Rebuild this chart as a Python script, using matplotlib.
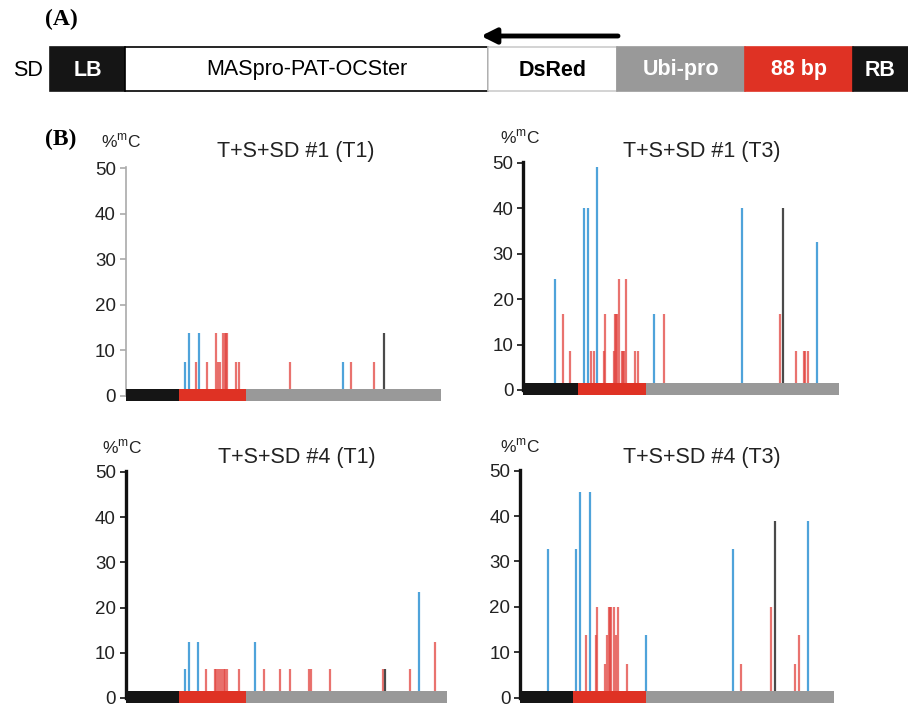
import matplotlib
matplotlib.use('Agg')
import matplotlib.pyplot as plt
from matplotlib.patches import Rectangle

plt.rcParams['font.family'] = ['Liberation Sans', 'DejaVu Sans']
plt.rcParams['mathtext.fontset'] = 'custom'
plt.rcParams['mathtext.rm'] = 'Liberation Sans'

# construct map (A)
construct_names = ['LB', 'MASpro-PAT-OCSter', 'DsRed', 'Ubi-pro', '88 bp', 'RB']
construct_len = [75, 363, 129, 128, 108, 55]

# methylation profiles (B): position along region (% of length), %mC, context
titles = ['T+S+SD #1 (T1)', 'T+S+SD #1 (T3)', 'T+S+SD #4 (T1)', 'T+S+SD #4 (T3)']

p1_pos = [18.9, 20.2, 22.2, 23.2, 25.7, 28.6, 29.3, 29.9, 31.0, 31.4, 31.9, 32.3,
          35.0, 36.1, 52.1, 69.0, 71.4, 78.8, 82.0]
p1_val = [7.4, 13.8, 7.4, 13.8, 7.4, 13.8, 7.4, 7.4, 13.8, 13.8, 13.8, 13.8,
          7.4, 7.4, 7.4, 7.4, 7.4, 7.4, 13.8]
p1_ctx = ['CG', 'CG', 'CHH', 'CG', 'CHH', 'CHH', 'CHH', 'CHH', 'CHH', 'CHH', 'CHH', 'CHH',
          'CHH', 'CHH', 'CHH', 'CG', 'CHH', 'CHH', 'CHG']

p2_pos = [10.1, 12.7, 14.7, 19.1, 20.6, 21.3, 22.3, 23.3, 25.6, 25.9, 28.6, 28.9, 29.2,
          29.5, 30.2, 31.1, 31.5, 31.9, 32.5, 35.2, 36.2, 41.4, 44.5, 69.1, 81.2, 82.3,
          86.3, 88.8, 89.3, 90.0, 92.8]
p2_val = [24.5, 16.7, 8.5, 40, 40, 8.5, 8.5, 49, 8.5, 16.7, 8.5, 16.7, 16.7,
          16.7, 24.5, 8.5, 8.5, 8.5, 24.5, 8.5, 8.5, 16.7, 16.7, 40, 16.7, 40,
          8.5, 8.5, 8.5, 8.5, 32.5]
p2_ctx = ['CG', 'CHH', 'CHH', 'CG', 'CG', 'CHH', 'CHH', 'CG', 'CHH', 'CHH', 'CHH', 'CHH', 'CHH',
          'CHH', 'CHH', 'CHH', 'CHH', 'CHH', 'CHH', 'CHH', 'CHH', 'CG', 'CHH', 'CG', 'CHH', 'CHG',
          'CHH', 'CHH', 'CHH', 'CHH', 'CG']

p3_pos = [18.5, 19.7, 22.6, 25.0, 27.7, 28.2, 28.8, 29.3, 30.0, 30.5, 31.0, 31.6,
          35.3, 40.4, 43.0, 48.1, 51.2, 57.2, 57.7, 63.7, 80.0, 80.7, 88.6, 91.4, 96.5]
p3_val = [6.5, 12.3, 12.3, 6.5, 6.5, 6.5, 6.5, 6.5, 6.5, 6.5, 6.5, 6.5,
          6.5, 12.3, 6.5, 6.5, 6.5, 6.5, 6.5, 6.5, 6.5, 6.5, 6.5, 23.5, 12.3]
p3_ctx = ['CG', 'CG', 'CG', 'CHH', 'CHH', 'CHH', 'CHH', 'CHH', 'CHH', 'CHH', 'CHH', 'CHH',
          'CHH', 'CG', 'CHH', 'CHH', 'CHH', 'CHH', 'CHH', 'CHH', 'CHH', 'CHG', 'CHH', 'CG', 'CHH']

p4_pos = [9.0, 17.9, 19.2, 21.1, 22.2, 24.3, 24.6, 27.2, 27.7, 28.2, 28.7, 29.1,
          29.9, 30.5, 31.1, 34.0, 40.2, 67.9, 70.4, 80.0, 81.1, 87.7, 88.7, 91.7]
p4_val = [32.8, 32.8, 45.3, 13.8, 45.3, 13.8, 20, 7.5, 13.8, 20, 20, 20,
          20, 13.8, 20, 7.5, 13.8, 32.8, 7.5, 20, 38.9, 7.5, 13.8, 38.9]
p4_ctx = ['CG', 'CG', 'CG', 'CHH', 'CG', 'CHH', 'CHH', 'CHH', 'CHH', 'CHH', 'CHH', 'CHH',
          'CHH', 'CHH', 'CHH', 'CHH', 'CG', 'CG', 'CHH', 'CHH', 'CHG', 'CHH', 'CHH', 'CG']

# region boundaries under each profile (RB | 88 bp | Ubi-pro)
p1_bounds = [16.9, 38.1]
p2_bounds = [17.4, 38.7]
p3_bounds = [16.7, 37.5]
p4_bounds = [16.8, 40.0]

ctx_color = {'CG': '#4fa3da', 'CHG': '#4a4a4a', 'CHH': '#e2443f'}
ctx_alpha = {'CG': 1.0, 'CHG': 1.0, 'CHH': 0.75}
seg_colors = ['#151515', '#df3224', '#999999']

W, H = 908, 707
fig = plt.figure(figsize=(W / 100, H / 100), dpi=100)

# background axes in pixel coordinates for panel A and labels
bg = fig.add_axes([0, 0, 1, 1])
bg.set_xlim(0, W)
bg.set_ylim(H, 0)
bg.axis('off')

bg.text(61, 19, '(A)', fontsize=17, fontweight='bold', family='Liberation Serif',
        ha='center', va='center')
bg.text(61, 139, '(B)', fontsize=17, fontweight='bold', family='Liberation Serif',
        ha='center', va='center')
bg.text(28, 70, 'SD', fontsize=15.5, ha='center', va='center')

x = 50
y_top, y_bot = 47, 91
fills = ['#151515', 'white', 'white', '#999999', '#df3224', '#151515']
edges = ['#151515', 'black', '#cccccc', '#999999', '#df3224', '#151515']
tcols = ['white', 'black', 'black', 'white', 'white', 'white']
bold = [True, False, True, True, True, True]
for name, ln, fc, ec, tc, b in zip(construct_names, construct_len, fills, edges, tcols, bold):
    bg.add_patch(Rectangle((x, y_top), ln, y_bot - y_top, facecolor=fc,
                           edgecolor=ec, lw=1.2))
    bg.text(x + ln / 2, (y_top + y_bot) / 2 + 1, name, color=tc, fontsize=15.5,
            fontweight='bold' if b else 'normal', ha='center', va='center')
    x += ln

bg.annotate('', xy=(481, 36), xytext=(618, 36),
            arrowprops=dict(arrowstyle='-|>,head_length=0.9,head_width=0.45',
                            lw=3.5, color='black', shrinkA=0, shrinkB=0))

panels = [
    (p1_pos, p1_val, p1_ctx, p1_bounds, (125.7, 440.7, 396.0, 168.3), (296, 152), (121, 141), '#aaaaaa', 1.2),
    (p2_pos, p2_val, p2_ctx, p2_bounds, (523.3, 839.3, 390.0, 162.7), (702, 152), (520, 137), '#111111', 2.4),
    (p3_pos, p3_val, p3_ctx, p3_bounds, (125.7, 446.7, 698.0, 471.8), (297, 457), (122, 447), '#111111', 2.4),
    (p4_pos, p4_val, p4_ctx, p4_bounds, (520.0, 834.0, 697.8, 470.6), (702, 457), (520, 446), '#111111', 2.4),
]

for (pos, val, ctx, bounds, geo, tpos, mpos, spc, splw), title in zip(panels, titles):
    x0, x1, y0, y50 = geo
    unit = (y0 - y50) / 50
    top = y0 - 50.6 * unit
    bot = y0 + 1.4 * unit
    ax = fig.add_axes([x0 / W, 1 - bot / H, (x1 - x0) / W, (bot - top) / H])
    ax.set_facecolor('none')
    ax.set_xlim(0, 100)
    ax.set_ylim(-1.4, 50.6)

    for p, v, c in zip(pos, val, ctx):
        ax.vlines(p, 0, v, color=ctx_color[c], alpha=ctx_alpha[c], lw=1.6)

    edges_x = [0] + bounds + [100]
    for i in range(3):
        ax.add_patch(Rectangle((edges_x[i], -1.2), edges_x[i + 1] - edges_x[i], 2.8,
                               facecolor=seg_colors[i], edgecolor='none', zorder=3))

    for s in ['top', 'right', 'bottom']:
        ax.spines[s].set_visible(False)
    ax.spines['left'].set_color(spc)
    ax.spines['left'].set_linewidth(splw)
    ax.spines['left'].set_bounds(0, 50.2)
    ax.set_xticks([])
    ax.set_yticks([0, 10, 20, 30, 40, 50])
    ax.tick_params(axis='y', direction='out', length=4, width=1.2, color=spc,
                   labelsize=13.5, pad=3, labelcolor='#222222')

    bg.text(tpos[0], tpos[1], title, fontsize=15.5, ha='center', va='center',
            color='#222222')
    bg.text(mpos[0], mpos[1], r'%$^{\mathrm{m}}$C', fontsize=12.5, ha='center',
            va='center', color='#222222')

fig.savefig('out.png', dpi=100)
